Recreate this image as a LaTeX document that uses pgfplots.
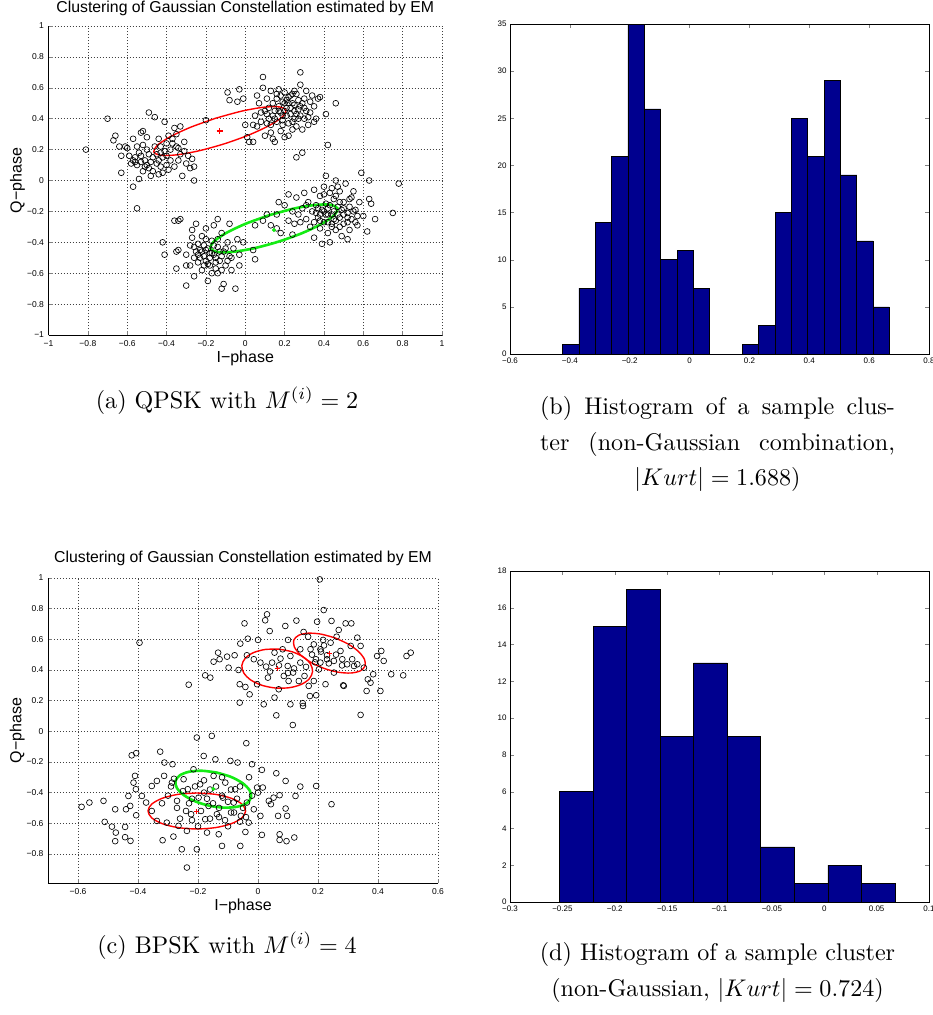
\documentclass[border=0pt]{standalone}
\usepackage{fontspec}
\usepackage{pgfplots}
\pgfplotsset{compat=1.18}
\newfontfamily\arial{Liberation Sans}
\definecolor{mblue}{RGB}{0,0,143}
\definecolor{mgreen}{RGB}{20,235,20}
\definecolor{mred}{RGB}{255,0,0}
\pgfplotsset{
  scat/.style={scale only axis, axis x line=bottom, axis y line=left, axis line style={-, line width=0.7pt},
    tick align=inside, major tick length=4pt, tick style={line width=0.6pt},
    grid=major, grid style={black!75, dash pattern=on 0.6pt off 2.4pt, line width=0.5pt},
    ticklabel style={font=\arial\fontsize{8.5}{10}\selectfont},
    xticklabel style={yshift=-2pt}, yticklabel style={xshift=-1pt},
    title style={font=\arial\fontsize{15.8}{18}\selectfont},
    label style={font=\arial\fontsize{16}{19}\selectfont}},
  hist/.style={scale only axis, tick align=inside, major tick length=4pt, axis line style={line width=0.7pt},
    ticklabel style={font=\arial\fontsize{8}{9.5}\selectfont},
    /pgf/number format/assume math mode=true},
  pts/.style={only marks, mark=o, mark size=2.9pt, black, mark options={line width=0.65pt}},
}
\begin{document}
\begin{tikzpicture}
\path[use as bounding box] (0pt,0pt) rectangle (933pt,-1015pt);

% ---------------- (a) ----------------
\begin{axis}[scat, at={(48.5pt,-26pt)}, anchor=north west, width=393.5pt, height=309pt,
  xmin=-1, xmax=1, ymin=-1, ymax=1,
  xtick={-1,-0.8,-0.6,-0.4,-0.2,0,0.2,0.4,0.6,0.8,1},
  xticklabels={−1,−0.8,−0.6,−0.4,−0.2,0,0.2,0.4,0.6,0.8,1},
  ytick={-1,-0.8,-0.6,-0.4,-0.2,0,0.2,0.4,0.6,0.8,1},
  yticklabels={−1,−0.8,−0.6,−0.4,−0.2,0,0.2,0.4,0.6,0.8,1},
  title={Clustering of Gaussian Constellation estimated by EM},
  title style={at={(0.5,1.0259)}, anchor=base},
  xlabel={I−phase}, xlabel style={at={(axis description cs:0.5,-0.0874)}, anchor=base},
  ylabel={Q−phase}, ylabel style={at={(axis description cs:-0.0686,0.5)}, anchor=base}]
\addplot[pts] coordinates {
(-0.81,0.20) (-0.70,0.40) (-0.67,0.26) (-0.66,0.29) (-0.64,0.22) (-0.63,0.16) (-0.63,0.05) (-0.60,0.21) (-0.59,0.16) (-0.57,0.27)
(-0.57,0.13) (-0.56,0.15) (-0.57,-0.04) (-0.55,-0.18) (-0.55,0.10) (-0.54,0.01) (-0.53,0.31) (-0.52,0.32) (-0.52,0.23) (-0.51,0.13)
(-0.50,0.20) (-0.49,0.44) (-0.49,0.08) (-0.48,0.12) (-0.47,0.06) (-0.46,0.41) (-0.45,0.17) (-0.44,0.27) (-0.44,0.04) (-0.43,0.22)
(-0.42,0.15) (-0.41,0.38) (-0.40,0.24) (-0.40,0.10) (-0.39,0.07) (-0.38,0.20) (-0.37,0.27) (-0.36,0.34) (-0.35,0.30) (-0.34,0.13)
(-0.33,0.17) (-0.32,0.03) (-0.31,0.25) (-0.30,0.11) (-0.29,0.16) (-0.28,0.08) (-0.27,0.14) (-0.26,0.00) (-0.26,0.09) (-0.53,0.12)
(-0.50,0.10) (-0.47,0.15) (-0.43,0.09) (-0.41,0.19) (-0.38,0.13) (-0.35,0.22) (-0.33,0.35) (-0.46,0.22) (-0.52,0.06) (-0.55,0.22)
(-0.58,0.11) (-0.61,0.22) (-0.48,0.03) (-0.36,0.09) (-0.31,0.19) (-0.39,0.29) (-0.44,0.13) (-0.42,0.05) (-0.50,0.28) (-0.54,0.18)
(-0.20,0.39) (-0.56,0.12) (-0.53,0.16) (-0.51,0.09) (-0.49,0.17) (-0.45,0.11) (-0.43,0.18) (-0.40,0.16) (-0.37,0.24) (-0.34,0.21)
(-0.09,0.57) (-0.08,0.52) (-0.03,0.59) (-0.04,0.51) (-0.01,0.53) (0.00,0.36) (0.01,0.28) (0.02,0.25) (0.04,0.25) (0.04,0.36)
(0.05,0.42) (0.06,0.55) (0.07,0.50) (0.08,0.44) (0.09,0.67) (0.09,0.60) (0.10,0.29) (0.11,0.53) (0.11,0.37) (0.12,0.47)
(0.13,0.58) (0.13,0.31) (0.14,0.42) (0.14,0.27) (0.15,0.25) (0.16,0.53) (0.16,0.38) (0.17,0.59) (0.17,0.45) (0.18,0.32)
(0.19,0.51) (0.19,0.42) (0.20,0.57) (0.20,0.28) (0.21,0.47) (0.22,0.37) (0.22,0.54) (0.23,0.43) (0.24,0.50) (0.25,0.58)
(0.25,0.45) (0.26,0.35) (0.26,0.15) (0.27,0.52) (0.28,0.70) (0.28,0.62) (0.28,0.42) (0.29,0.33) (0.29,0.18) (0.30,0.47)
(0.31,0.58) (0.32,0.36) (0.33,0.44) (0.34,0.55) (0.35,0.48) (0.36,0.40) (0.37,0.53) (0.38,0.54) (0.41,0.43) (0.42,0.23)
(0.46,0.50) (0.18,0.44) (0.21,0.52) (0.23,0.47) (0.14,0.50) (0.12,0.40) (0.24,0.38) (0.27,0.46) (0.16,0.56) (0.19,0.36)
(0.30,0.40) (0.26,0.56) (0.22,0.29) (0.10,0.45) (0.20,0.50) (0.23,0.55) (0.25,0.49) (0.27,0.40) (0.29,0.50) (0.17,0.48)
(0.15,0.45) (0.21,0.42) (0.31,0.45) (0.24,0.33) (0.13,0.36) (0.08,0.38) (0.06,0.35) (0.33,0.51) (0.35,0.38)
(0.18,0.55) (0.20,0.45) (0.22,0.50) (0.24,0.56) (0.26,0.43) (0.28,0.48) (0.30,0.53) (0.32,0.41) (0.19,0.39) (0.15,0.40) (0.11,0.43) (0.25,0.40)
(-0.42,-0.40) (-0.41,-0.48) (-0.36,-0.26) (-0.35,-0.46) (-0.35,-0.57) (-0.34,-0.26) (-0.33,-0.25) (-0.34,-0.45) (-0.30,-0.48) (-0.30,-0.55)
(-0.30,-0.68) (-0.28,-0.42) (-0.27,-0.32) (-0.27,-0.37) (-0.26,-0.50) (-0.26,-0.62) (-0.25,-0.28) (-0.24,-0.41) (-0.24,-0.53) (-0.23,-0.45)
(-0.22,-0.36) (-0.22,-0.58) (-0.21,-0.49) (-0.20,-0.31) (-0.20,-0.52) (-0.19,-0.44) (-0.19,-0.65) (-0.18,-0.55) (-0.17,-0.39) (-0.16,-0.48)
(-0.16,-0.29) (-0.15,-0.57) (-0.14,-0.43) (-0.14,-0.25) (-0.13,-0.52) (-0.12,-0.34) (-0.12,-0.70) (-0.11,-0.46) (-0.11,-0.67) (-0.10,-0.55)
(-0.09,-0.40) (-0.08,-0.49) (-0.08,-0.28) (-0.07,-0.58) (-0.06,-0.44) (-0.05,-0.70) (-0.04,-0.38) (-0.03,-0.48) (-0.03,-0.55) (-0.01,-0.40)
(0.05,-0.29) (0.05,-0.51) (0.04,-0.45) (-0.18,-0.47) (-0.21,-0.42) (-0.15,-0.50) (-0.23,-0.50) (-0.13,-0.46) (-0.19,-0.54) (-0.25,-0.46)
(-0.10,-0.44) (-0.17,-0.60) (-0.28,-0.55) (-0.12,-0.58) (-0.07,-0.50) (-0.22,-0.46) (-0.16,-0.42) (-0.20,-0.38) (-0.14,-0.38) (-0.26,-0.43)
(-0.24,-0.48) (-0.21,-0.55) (-0.18,-0.50) (-0.15,-0.53) (-0.12,-0.49) (-0.17,-0.47) (-0.20,-0.45) (-0.09,-0.52) (-0.14,-0.60)
(0.09,-0.26) (0.11,-0.22) (0.13,-0.29) (0.16,-0.22) (0.16,-0.31) (0.17,-0.14) (0.18,-0.34) (0.20,-0.16) (0.22,-0.09) (0.22,-0.26)
(0.24,-0.20) (0.24,-0.35) (0.25,-0.28) (0.26,-0.11) (0.27,-0.22) (0.28,-0.27) (0.29,-0.18) (0.30,-0.08) (0.31,-0.25) (0.32,-0.14)
(0.33,-0.30) (0.34,-0.20) (0.35,-0.06) (0.35,-0.37) (0.36,-0.16) (0.37,-0.24) (0.38,-0.10) (0.38,-0.31) (0.39,-0.19) (0.40,-0.04)
(0.40,-0.27) (0.41,0.03) (0.41,-0.15) (0.42,-0.34) (0.42,-0.22) (0.43,-0.08) (0.43,-0.40) (0.44,-0.28) (0.45,-0.12) (0.45,-0.20)
(0.46,0.00) (0.46,-0.32) (0.47,-0.17) (0.48,-0.24) (0.48,-0.07) (0.49,-0.36) (0.50,-0.14) (0.50,-0.28) (0.51,-0.02) (0.52,-0.21)
(0.53,-0.12) (0.53,-0.32) (0.54,-0.25) (0.55,-0.07) (0.56,-0.19) (0.56,-0.27) (0.57,-0.23) (0.59,0.05) (0.60,-0.23) (0.62,-0.33)
(0.63,0.00) (0.63,-0.12) (0.64,-0.15) (0.66,-0.25) (0.75,-0.21) (0.78,-0.02) (0.52,-0.38) (0.39,-0.41) (0.44,-0.05) (0.47,-0.22)
(0.36,-0.21) (0.53,-0.17) (0.42,-0.27) (0.49,-0.19) (0.58,-0.14) (0.31,-0.16) (0.46,-0.10) (0.38,-0.26) (0.40,-0.20) (0.43,-0.16)
(0.45,-0.25) (0.48,-0.14) (0.50,-0.22) (0.52,-0.27) (0.44,-0.30) (0.41,-0.22) (0.37,-0.18) (0.55,-0.20) (0.57,-0.29) (0.35,-0.27)
(0.47,-0.04) (0.40,-0.09) (0.54,-0.11) (0.42,-0.18) (0.46,-0.26) (0.50,-0.18) (0.44,-0.22) (0.38,-0.22) (0.52,-0.24) (0.48,-0.30)
};
\addplot[mred, line width=1.4pt, smooth] coordinates {
(-0.1498,0.4032) (-0.2768,0.3452) (-0.3813,0.2833) (-0.4474,0.2271) (-0.465,0.185) (-0.4314,0.1635) (-0.3519,0.1657) (-0.2384,0.1914)
(-0.1082,0.2368) (0.0188,0.2948) (0.1233,0.3567) (0.1894,0.4129) (0.207,0.455) (0.1734,0.4765) (0.0939,0.4743) (-0.0196,0.4486) (-0.1498,0.4032)};
\addplot[mgreen, line width=2.6pt, smooth] coordinates {
(0.1247,-0.2236) (0.0027,-0.2796) (-0.0975,-0.3401) (-0.1606,-0.3961) (-0.177,-0.439) (-0.1442,-0.4623) (-0.0673,-0.4623) (0.0421,-0.4392)
(0.1673,-0.3964) (0.2893,-0.3404) (0.3895,-0.2799) (0.4526,-0.2239) (0.469,-0.181) (0.4362,-0.1577) (0.3593,-0.1577) (0.2499,-0.1808) (0.1247,-0.2236)};
\addplot[only marks, mark=+, mred, mark size=3pt, mark options={line width=1.2pt}] coordinates {(-0.13,0.32)};
\addplot[only marks, mark=*, mgreen, mark size=1.8pt] coordinates {(0.146,-0.32)};
\end{axis}

% ---------------- (b) ----------------
\begin{axis}[hist, at={(510pt,-24pt)}, anchor=north west, width=419pt, height=330pt,
  xmin=-0.6, xmax=0.8, ymin=0, ymax=35,
  xtick={-0.6,-0.4,-0.2,0,0.2,0.4,0.6,0.8},
  xticklabels={−0.6,−0.4,−0.2,0,0.2,0.4,0.6,0.8},
  ytick={0,5,10,15,20,25,30,35}]
\addplot[ybar interval, fill=mblue, draw=black, line width=0.6pt] coordinates {
(-0.4242,1) (-0.3696,7) (-0.3150,14) (-0.2604,21) (-0.2058,35) (-0.1512,26) (-0.0966,10) (-0.0420,11) (0.0126,7) (0.0672,0)
(0.1218,0) (0.1764,1) (0.2310,3) (0.2856,15) (0.3402,25) (0.3948,21) (0.4494,29) (0.5040,19) (0.5586,12) (0.6132,5) (0.6678,5)};
\end{axis}

% ---------------- (c) ----------------
\begin{axis}[scat, at={(48pt,-578pt)}, anchor=north west, width=390pt, height=305pt,
  xmin=-0.7, xmax=0.6, ymin=-0.99, ymax=1,
  xtick={-0.6,-0.4,-0.2,0,0.2,0.4,0.6},
  xticklabels={−0.6,−0.4,−0.2,0,0.2,0.4,0.6},
  ytick={-0.8,-0.6,-0.4,-0.2,0,0.2,0.4,0.6,0.8,1},
  yticklabels={−0.8,−0.6,−0.4,−0.2,0,0.2,0.4,0.6,0.8,1},
  title={Clustering of Gaussian Constellation estimated by EM},
  title style={at={(0.5,1.0328)}, anchor=base},
  xlabel={I−phase}, xlabel style={at={(axis description cs:0.5,-0.0885)}, anchor=base},
  ylabel={Q−phase}, ylabel style={at={(axis description cs:-0.068,0.5)}, anchor=base}]
\addplot[pts] coordinates {
(0.206,0.991) (0.219,0.791) (-0.395,0.578) (-0.231,0.304) (0.030,0.763) (-0.045,0.704) (0.024,0.724) (0.128,0.722) (0.197,0.715) (0.245,0.720)
(0.292,0.704) (0.311,0.704) (0.039,0.654) (0.091,0.687) (0.152,0.648) (0.269,0.661) (-0.034,0.604) (0.000,0.596) (0.100,0.596) (0.167,0.617)
(0.217,0.596) (0.331,0.611) (0.342,0.557) (-0.059,0.572) (-0.133,0.513) (-0.103,0.487) (-0.078,0.496) (-0.148,0.454) (-0.128,0.470) (-0.098,0.415)
(-0.065,0.400) (-0.037,0.496) (-0.014,0.470) (0.008,0.448) (0.027,0.422) (0.047,0.448) (0.075,0.474) (0.099,0.426) (0.117,0.383) (0.141,0.448)
(0.155,0.361) (0.175,0.535) (0.193,0.470) (0.208,0.535) (0.230,0.496) (0.253,0.459) (0.281,0.470) (0.297,0.437) (0.314,0.470) (0.331,0.437)
(0.353,0.415) (0.384,0.372) (0.366,0.339) (0.362,0.263) (0.408,0.263) (0.411,0.524) (0.419,0.459) (0.397,0.491) (0.444,0.372) (0.484,0.365)
(0.495,0.491) (0.509,0.513) (0.342,0.107) (0.061,0.104) (0.116,0.041) (0.108,0.176) (0.150,0.165) (0.149,0.183) (0.173,0.230) (0.194,0.235)
(0.286,0.296) (0.284,0.300) (0.225,0.307) (0.186,0.328) (0.069,0.274) (0.019,0.176) (-0.028,0.241) (-0.042,0.289) (-0.061,0.187) (-0.003,0.307)
(-0.061,0.307) (-0.176,0.365) (-0.159,0.350) (0.055,0.220) (0.086,0.361) (0.102,0.328) (0.136,0.328) (0.169,0.296) (0.108,0.491) (0.055,0.513)
(0.082,0.535) (0.242,0.578) (0.186,0.567) (0.262,0.617) (0.309,0.557) (0.253,0.383) (0.203,0.404) (0.275,0.524) (0.208,0.448) (0.236,0.443)
(0.141,0.535) (0.320,0.426) (0.375,0.317) (0.033,0.350)
(0.18,0.50) (0.21,0.52) (0.23,0.47) (0.19,0.45) (0.26,0.50) (0.16,0.42) (0.12,0.41) (0.07,0.43) (0.04,0.39) (0.10,0.38) (0.28,0.43) (0.22,0.56)
(-0.588,-0.493) (-0.562,-0.465) (-0.515,-0.454) (-0.511,-0.591) (-0.476,-0.509) (-0.487,-0.622) (-0.474,-0.661) (-0.476,-0.717) (-0.443,-0.624) (-0.443,-0.691)
(-0.425,-0.715) (-0.440,-0.509) (-0.426,-0.487) (-0.421,-0.157) (-0.406,-0.143) (-0.410,-0.291) (-0.415,-0.335) (-0.432,-0.422) (-0.407,-0.378) (-0.406,-0.548)
(-0.387,-0.422) (-0.373,-0.465) (-0.354,-0.520) (-0.354,-0.357) (-0.337,-0.324) (-0.326,-0.133) (-0.313,-0.291) (-0.312,-0.204) (-0.318,-0.711) (-0.337,-0.585)
(-0.304,-0.596) (-0.282,-0.687) (-0.287,-0.335) (-0.285,-0.215) (-0.270,-0.454) (-0.265,-0.617) (-0.254,-0.770) (-0.237,-0.889) (-0.237,-0.650) (-0.248,-0.313)
(-0.234,-0.378) (-0.223,-0.541) (-0.215,-0.248) (-0.204,-0.041) (-0.204,-0.770) (-0.198,-0.433) (-0.193,-0.346) (-0.181,-0.161) (-0.176,-0.574) (-0.170,-0.661)
(-0.165,-0.487) (-0.154,-0.030) (-0.148,-0.291) (-0.142,-0.183) (-0.137,-0.541) (-0.131,-0.672) (-0.120,-0.748) (-0.117,-0.433) (-0.109,-0.335) (-0.092,-0.193)
(-0.090,-0.530) (-0.081,-0.465) (-0.076,-0.378) (-0.068,-0.204) (-0.059,-0.748) (-0.057,-0.552) (-0.042,-0.657) (-0.039,-0.078) (-0.037,-0.465) (-0.031,-0.596)
(-0.020,-0.215) (-0.014,-0.509) (-0.003,-0.367) (0.008,-0.552) (0.013,-0.252) (0.013,-0.676) (0.016,-0.367) (0.036,-0.454) (0.043,-0.476) (0.052,-0.433)
(0.061,-0.274) (0.067,-0.552) (0.072,-0.417) (0.072,-0.672) (0.072,-0.709) (0.092,-0.504) (0.092,-0.324) (0.097,-0.552) (0.095,-0.717) (0.121,-0.693)
(0.125,-0.422) (0.141,-0.361) (0.194,-0.357) (0.245,-0.476)
(-0.30,-0.42) (-0.27,-0.50) (-0.25,-0.39) (-0.23,-0.47) (-0.22,-0.58) (-0.21,-0.36) (-0.19,-0.52) (-0.18,-0.40) (-0.17,-0.44) (-0.16,-0.57)
(-0.15,-0.47) (-0.14,-0.36) (-0.13,-0.50) (-0.12,-0.42) (-0.11,-0.58) (-0.10,-0.46) (-0.09,-0.38) (-0.08,-0.53) (-0.07,-0.44) (-0.06,-0.36)
(-0.05,-0.50) (-0.04,-0.56) (-0.26,-0.57) (-0.24,-0.52) (-0.20,-0.62) (-0.29,-0.36) (-0.32,-0.47) (-0.28,-0.31) (-0.12,-0.30) (-0.02,-0.42)
(-0.10,-0.62) (-0.18,-0.32) (-0.22,-0.44) (-0.16,-0.38) (-0.13,-0.56) (-0.06,-0.59) (-0.03,-0.30) (0.00,-0.40)
};
\addplot[mred, line width=1.4pt, smooth] coordinates {
(0.0697,0.5357) (0.0241,0.5338) (-0.0154,0.5129) (-0.0427,0.4762) (-0.0539,0.4292) (-0.0471,0.3792) (-0.0234,0.3337) (0.0137,0.2996)
(0.0583,0.2823) (0.1039,0.2842) (0.1434,0.3051) (0.1707,0.3418) (0.1819,0.3888) (0.1751,0.4388) (0.1514,0.4843) (0.1143,0.5184) (0.0697,0.5357)};
\addplot[mred, line width=1.4pt, smooth] coordinates {
(0.2565,0.6093) (0.2097,0.6341) (0.1672,0.6400) (0.1354,0.6262) (0.1193,0.5946) (0.1212,0.5502) (0.1410,0.4996) (0.1755,0.4507)
(0.2195,0.4107) (0.2663,0.3859) (0.3088,0.3800) (0.3406,0.3938) (0.3567,0.4254) (0.3548,0.4698) (0.3350,0.5204) (0.3005,0.5693) (0.2565,0.6093)};
\addplot[mred, line width=1.4pt, smooth] coordinates {
(-0.204,-0.4026) (-0.2663,-0.4115) (-0.3190,-0.4370) (-0.3543,-0.4751) (-0.3667,-0.520) (-0.3543,-0.5649) (-0.3190,-0.6030) (-0.2663,-0.6285)
(-0.204,-0.6374) (-0.1417,-0.6285) (-0.0890,-0.6030) (-0.0537,-0.5649) (-0.0413,-0.520) (-0.0537,-0.4751) (-0.0890,-0.4370) (-0.1417,-0.4115) (-0.204,-0.4026)};
\addplot[mgreen, line width=2.6pt, smooth] coordinates {
(-0.1372,-0.2695) (-0.1864,-0.2577) (-0.2299,-0.2642) (-0.2611,-0.2880) (-0.2752,-0.3255) (-0.2701,-0.3710) (-0.2465,-0.4176) (-0.2082,-0.4581)
(-0.1608,-0.4865) (-0.1116,-0.4983) (-0.0681,-0.4918) (-0.0369,-0.4680) (-0.0228,-0.4305) (-0.0279,-0.3850) (-0.0515,-0.3384) (-0.0898,-0.2979) (-0.1372,-0.2695)};
\addplot[only marks, mark=+, mred, mark size=2.5pt, mark options={line width=1.1pt}] coordinates {(0.064,0.409) (0.238,0.510) (-0.204,-0.522)};
\addplot[only marks, mark=*, mgreen, mark size=1.8pt] coordinates {(-0.149,-0.376)};
\end{axis}

% ---------------- (d) ----------------
\begin{axis}[hist, at={(510pt,-571pt)}, anchor=north west, width=419pt, height=331pt,
  xmin=-0.3, xmax=0.1, ymin=0, ymax=18,
  xtick={-0.3,-0.25,-0.2,-0.15,-0.1,-0.05,0,0.05,0.1},
  xticklabels={−0.3,−0.25,−0.2,−0.15,−0.1,−0.05,0,0.05,0.1},
  ytick={0,2,4,6,8,10,12,14,16,18}]
\addplot[ybar interval, fill=mblue, draw=black, line width=0.6pt] coordinates {
(-0.2526,6) (-0.2206,15) (-0.1886,17) (-0.1566,9) (-0.1246,13) (-0.0926,9) (-0.0606,3) (-0.0286,1) (0.0034,2) (0.0354,1) (0.0674,1)};
\end{axis}

% ---------------- captions ----------------
\node[anchor=base, scale=2.41, inner sep=0pt] at (227pt,-408pt) {\fontsize{10}{12}\selectfont (a) QPSK with $M^{(i)}=2$};
\node[anchor=base, scale=2.41, inner sep=0pt] at (717.5pt,-414.5pt) {\fontsize{10}{12}\selectfont\hbox to 147.3pt{(b) Histogram of a sample clus-}};
\node[anchor=base, scale=2.41, inner sep=0pt] at (717.5pt,-450pt) {\fontsize{10}{12}\selectfont\hbox to 147.3pt{ter (non-Gaussian combination,}};
\node[anchor=base, scale=2.41, inner sep=0pt] at (717.5pt,-485.5pt) {\fontsize{10}{12}\selectfont $|Kurt|=1.688$)};
\node[anchor=base, scale=2.41, inner sep=0pt] at (227pt,-953.5pt) {\fontsize{10}{12}\selectfont (c) BPSK with $M^{(i)}=4$};
\node[anchor=base, scale=2.41, inner sep=0pt] at (717.5pt,-960.5pt) {\fontsize{10}{12}\selectfont (d) Histogram of a sample cluster};
\node[anchor=base, scale=2.41, inner sep=0pt] at (717.5pt,-996pt) {\fontsize{10}{12}\selectfont (non-Gaussian, $|Kurt|=0.724$)};
\end{tikzpicture}
\end{document}
